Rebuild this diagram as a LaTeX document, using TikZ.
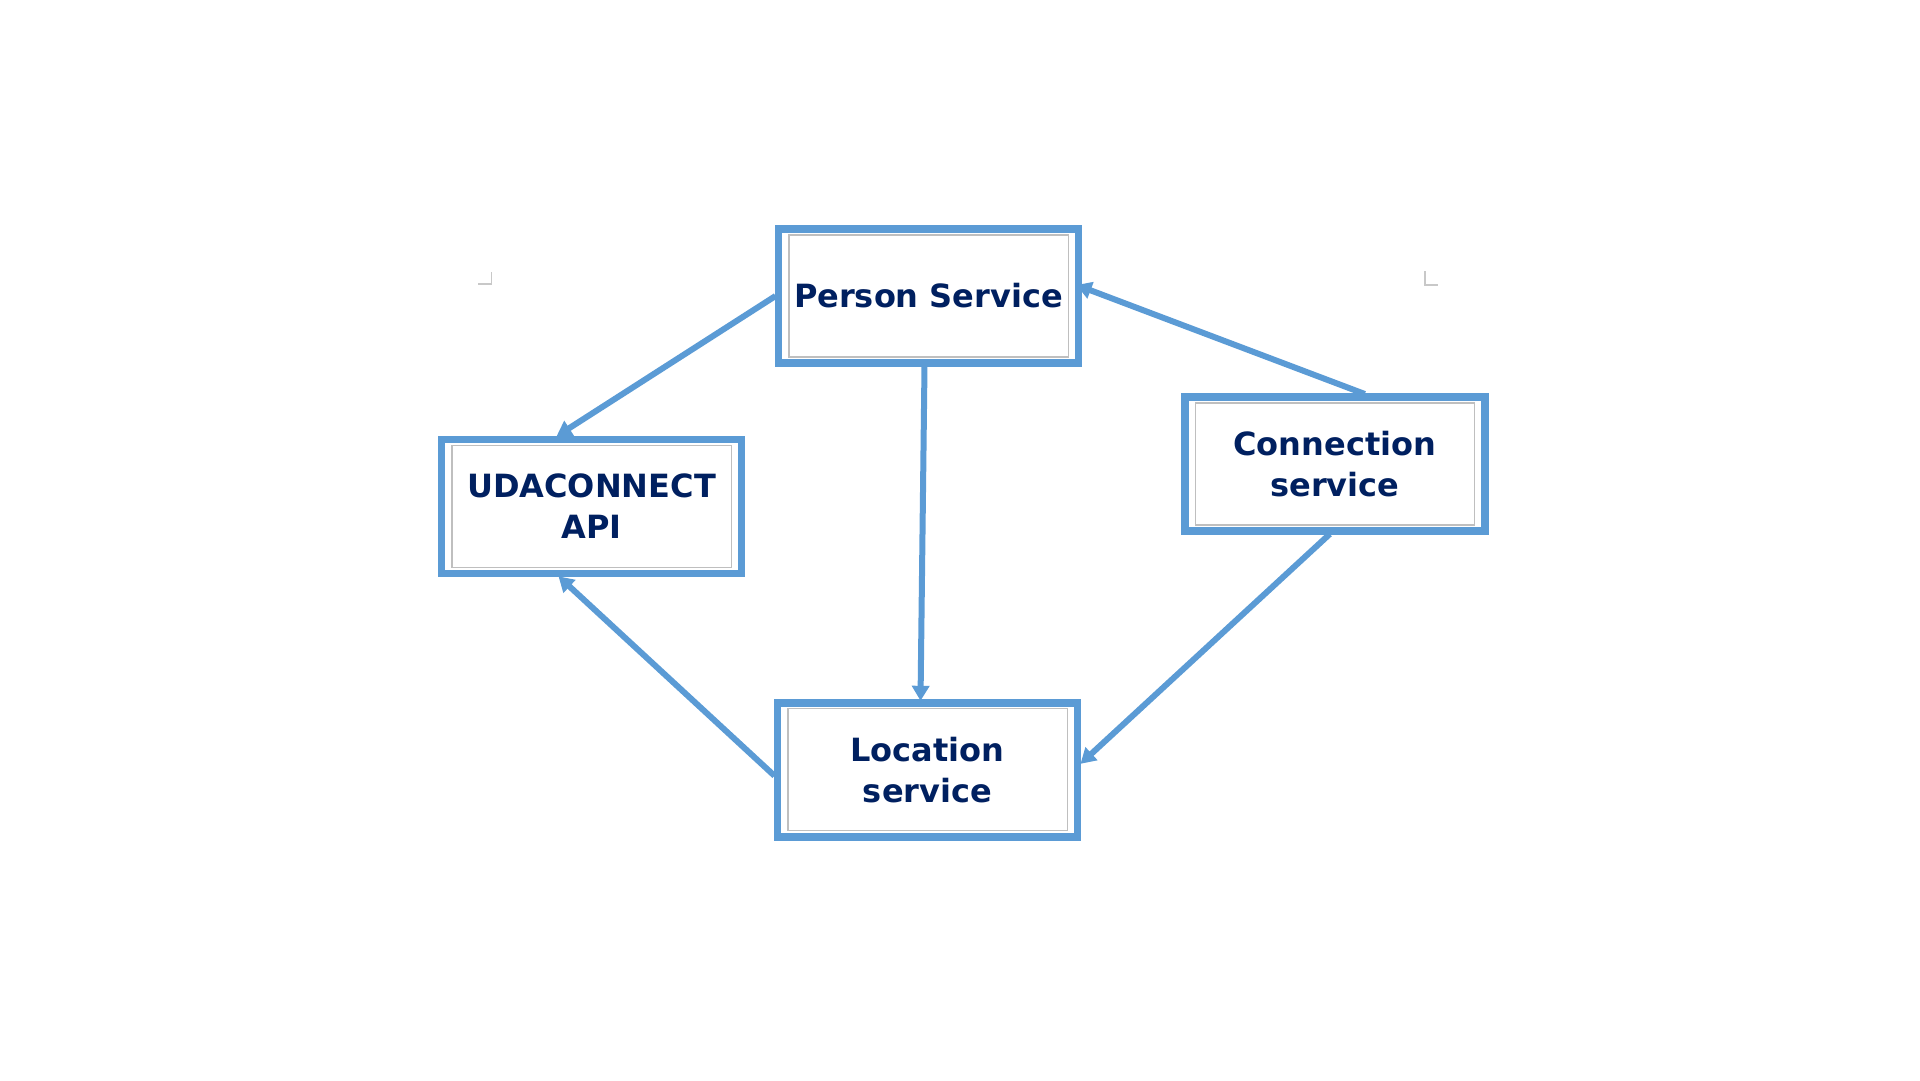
\documentclass[tikz,border=0pt]{standalone}
\usepackage{fontspec}
\setmainfont{DejaVu Sans}
\usetikzlibrary{arrows.meta}
\definecolor{boxblue}{HTML}{5B9BD5}
\definecolor{navy}{HTML}{002060}
\definecolor{innergray}{HTML}{BFBFBF}
\definecolor{markgray}{HTML}{C8C8C8}
\tikzset{
  svcbox/.style={draw=boxblue, line width=7.5pt, fill=white, minimum width=300pt, minimum height=134pt,
    inner sep=0pt, outer sep=0pt, align=center, text=navy, font=\fontsize{32}{41}\selectfont\bfseries},
  innerframe/.style={draw=innergray, line width=1.3pt},
  flow/.style={draw=boxblue, line width=6pt, -{Triangle[length=15pt,width=17pt]}},
  cornermark/.style={draw=markgray, line width=1.5pt}
}
\begin{document}
\begin{tikzpicture}[x=1pt,y=-1pt]
\useasboundingbox (0,0) rectangle (1920,1080);
% corner marks
\draw[cornermark] (478,284) -- (491.5,284) -- (491.5,271.5);
\draw[cornermark] (1425,271) -- (1425,285) -- (1438,285);
% boxes
\node[svcbox] (person) at (928.5,296) {Person Service};
\node[svcbox] (uda) at (591.5,506.3) {UDACONNECT\\API};
\node[svcbox] (conn) at (1334.8,464) {Connection\\service};
\node[svcbox] (loc) at (927.5,769.8) {Location\\service};
\foreach \n in {person,uda,conn,loc}{
  \draw[innerframe] ([xshift=10.5pt,yshift=6pt]\n.south west) rectangle ([xshift=-10pt,yshift=-6pt]\n.north east);
}
% connectors
\draw[flow] ([xshift=-3pt]person.west) -- ([xshift=-35pt,yshift=3pt]uda.north);
\draw[flow] ([xshift=-3pt,yshift=-6pt]loc.west) -- ([xshift=-33pt,yshift=-3pt]uda.south);
\draw[flow] ([xshift=-4pt,yshift=-3pt]person.south) -- ([xshift=-7pt,yshift=2pt]loc.north);
\draw[flow] ([xshift=30pt,yshift=3pt]conn.north) -- ([xshift=-2pt,yshift=11pt]person.east);
\draw[flow] ([xshift=-5pt,yshift=-3pt]conn.south) -- ([xshift=3pt,yshift=6pt]loc.east);
\end{tikzpicture}
\end{document}
